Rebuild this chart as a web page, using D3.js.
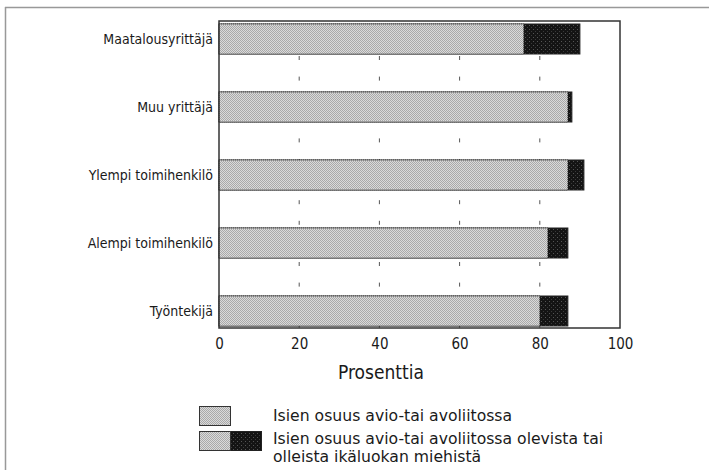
<!DOCTYPE html>
<html>
<head>
<meta charset="utf-8">
<script src="https://cdn.jsdelivr.net/npm/d3@7/dist/d3.min.js"></script>
<style>
    body { margin: 0; background: #fff; }
    text { font-family: 'Liberation Sans Narrow', 'Arial Narrow', 'DejaVu Sans Condensed', sans-serif; fill: #1a1a1a; }
</style>
</head>
<body>
<div id="container"></div>
<script>
// data //

const categories = ['Maatalousyrittäjä', 'Muu yrittäjä', 'Ylempi toimihenkilö', 'Alempi toimihenkilö', 'Työntekijä']
const isienOsuus = [76, 87, 87, 82, 80]
const isienOsuusMiehista = [90, 88, 91, 87, 87]
const xTicks = [0, 20, 40, 60, 80, 100]
const legendLabels = [
    ['Isien osuus avio-tai avoliitossa'],
    ['Isien osuus avio-tai avoliitossa olevista tai', 'olleista ikäluokan miehistä']
]

// chart //

const width = 709
const height = 470

const svg = d3
    .select('#container')
    .append('svg')
    .attr('width', width)
    .attr('height', height)

const defs = svg.append('defs')

// stippled grey
const light = defs.append('pattern')
    .attr('id', 'light')
    .attr('width', 2)
    .attr('height', 2)
    .attr('patternUnits', 'userSpaceOnUse')
light.append('rect').attr('width', 2).attr('height', 2).attr('fill', '#dadada')
light.append('rect').attr('width', 1).attr('height', 1).attr('fill', '#a9a9a9')
light.append('rect').attr('x', 1).attr('y', 1).attr('width', 1).attr('height', 1).attr('fill', '#a9a9a9')

// near black with a few grey specks
const dark = defs.append('pattern')
    .attr('id', 'dark')
    .attr('width', 4)
    .attr('height', 4)
    .attr('patternUnits', 'userSpaceOnUse')
dark.append('rect').attr('width', 4).attr('height', 4).attr('fill', '#141414')
dark.append('rect').attr('x', 1).attr('y', 1).attr('width', 1).attr('height', 1).attr('fill', '#555')
dark.append('rect').attr('x', 3).attr('y', 3).attr('width', 1).attr('height', 1).attr('fill', '#3a3a3a')

// outer page frame (top and left only)
svg.append('line')
    .attr('x1', 5).attr('x2', width).attr('y1', 7.5).attr('y2', 7.5)
    .attr('stroke', '#999').attr('stroke-width', 1.5)
svg.append('line')
    .attr('x1', 5.5).attr('x2', 5.5).attr('y1', 7).attr('y2', height)
    .attr('stroke', '#999').attr('stroke-width', 1.5)

const plot = { left: 219, right: 620, top: 21, bottom: 328 }

const x = d3.scaleLinear().domain([0, 100]).range([plot.left, plot.right])
const y = d3.scalePoint().domain(categories).range([39, 311])
const barHeight = 30

// dashed grid behind bars
svg.append('g')
    .selectAll('line')
    .data(xTicks.filter((d) => d > 0 && d < 100))
    .join('line')
    .attr('x1', (d) => x(d))
    .attr('x2', (d) => x(d))
    .attr('y1', plot.top)
    .attr('y2', plot.bottom)
    .attr('stroke', '#555')
    .attr('stroke-width', 1)
    .attr('stroke-dasharray', '4 16.6')
    .attr('stroke-dashoffset', 6.2)

const rows = categories.map((c, i) => ({ label: c, a: isienOsuus[i], b: isienOsuusMiehista[i] }))

const bars = svg.append('g')

bars.selectAll('rect.total')
    .data(rows)
    .join('rect')
    .attr('class', 'total')
    .attr('x', x(0))
    .attr('y', (d) => y(d.label) - barHeight / 2)
    .attr('width', (d) => x(d.b) - x(0))
    .attr('height', barHeight)
    .attr('fill', 'url(#dark)')
    .attr('stroke', '#222')
    .attr('stroke-width', 1)

bars.selectAll('rect.part')
    .data(rows)
    .join('rect')
    .attr('class', 'part')
    .attr('x', x(0))
    .attr('y', (d) => y(d.label) - barHeight / 2)
    .attr('width', (d) => x(d.a) - x(0))
    .attr('height', barHeight)
    .attr('fill', 'url(#light)')
    .attr('stroke', '#333')
    .attr('stroke-width', 1)
    .attr('stroke-dasharray', '1 1')

// plot frame
svg.append('rect')
    .attr('x', plot.left)
    .attr('y', plot.top)
    .attr('width', plot.right - plot.left)
    .attr('height', plot.bottom - plot.top)
    .attr('fill', 'none')
    .attr('stroke', '#333')
    .attr('stroke-width', 1.5)

// category labels
svg.append('g')
    .selectAll('text')
    .data(categories)
    .join('text')
    .attr('x', 213)
    .attr('y', (d) => y(d) + 5)
    .attr('text-anchor', 'end')
    .style('font-size', '14px')
    .text((d) => d)

// x axis labels
const xAxis = svg.append('g')
    .attr('transform', `translate(0,${plot.bottom})`)
    .call(d3.axisBottom(x).tickValues(xTicks).tickSize(0).tickPadding(10))
xAxis.select('.domain').remove()
xAxis.selectAll('text')
    .style('font-size', '15px')
    .style('font-family', null)
    .attr('fill', '#1a1a1a')

svg.append('text')
    .attr('x', 381)
    .attr('y', 379)
    .attr('text-anchor', 'middle')
    .style('font-size', '19px')
    .text('Prosenttia')

// legend
const legend = svg.append('g')
legend.append('rect')
    .attr('x', 199.5).attr('y', 406.5).attr('width', 31).attr('height', 19)
    .attr('fill', 'url(#light)').attr('stroke', '#333')
legend.append('rect')
    .attr('x', 230).attr('y', 431.5).attr('width', 31.5).attr('height', 19)
    .attr('fill', 'url(#dark)').attr('stroke', '#222')
legend.append('rect')
    .attr('x', 199.5).attr('y', 431.5).attr('width', 31).attr('height', 19)
    .attr('fill', 'url(#light)').attr('stroke', '#333')

// the original uses a taller, wider face than the condensed fallback; widen it
const baselines = [[421], [443.5, 462]]
legendLabels.forEach((lines, i) => {
    lines.forEach((line, j) => {
        legend.append('text')
            .attr('transform', `translate(273,${baselines[i][j]}) scale(1.16,1)`)
            .style('font-size', '15px')
            .text(line)
    })
})
</script>
</body>
</html>
